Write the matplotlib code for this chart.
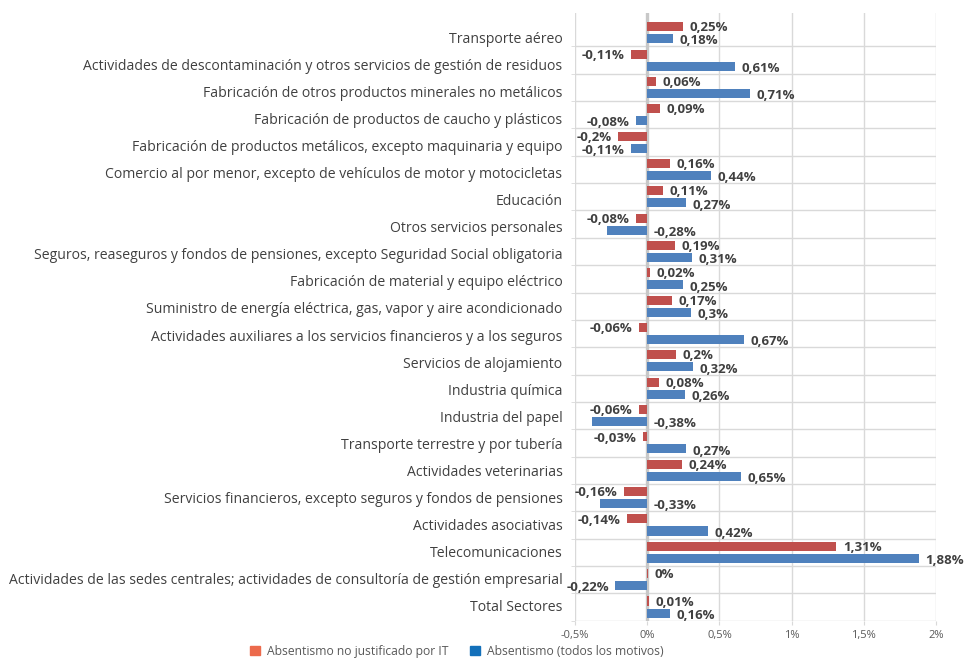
import matplotlib
matplotlib.use("Agg")
import matplotlib.pyplot as plt
from matplotlib.patches import Patch
import numpy as np

plt.rcParams["font.family"] = ["Open Sans", "DejaVu Sans"]

CATEGORIES = [
    "Transporte aéreo",
    "Actividades de descontaminación y otros servicios de gestión de residuos",
    "Fabricación de otros productos minerales no metálicos",
    "Fabricación de productos de caucho y plásticos",
    "Fabricación de productos metálicos, excepto maquinaria y equipo",
    "Comercio al por menor, excepto de vehículos de motor y motocicletas",
    "Educación",
    "Otros servicios personales",
    "Seguros, reaseguros y fondos de pensiones, excepto Seguridad Social obligatoria",
    "Fabricación de material y equipo eléctrico",
    "Suministro de energía eléctrica, gas, vapor y aire acondicionado",
    "Actividades auxiliares a los servicios financieros y a los seguros",
    "Servicios de alojamiento",
    "Industria química",
    "Industria del papel",
    "Transporte terrestre y por tubería",
    "Actividades veterinarias",
    "Servicios financieros, excepto seguros y fondos de pensiones",
    "Actividades asociativas",
    "Telecomunicaciones",
    "Actividades de las sedes centrales; actividades de consultoría de gestión empresarial",
    "Total Sectores",
]
NO_JUSTIFICADO = [0.25, -0.11, 0.06, 0.09, -0.2, 0.16, 0.11, -0.08, 0.19, 0.02, 0.17,
                  -0.06, 0.2, 0.08, -0.06, -0.03, 0.24, -0.16, -0.14, 1.31, 0.003, 0.01]
TODOS = [0.18, 0.61, 0.71, -0.08, -0.11, 0.44, 0.27, -0.28, 0.31, 0.25, 0.3,
         0.67, 0.32, 0.26, -0.38, 0.27, 0.65, -0.33, 0.42, 1.88, -0.22, 0.16]
X_TICKS = [-0.5, 0, 0.5, 1, 1.5, 2]

RED, BLUE = "#C0504D", "#4F81BD"
LEG_RED, LEG_BLUE = "#EC6A4C", "#1370BA"
TXT = "#404040"
GRID = "#D9D9D9"


def fmt(v):
    s = f"{round(v, 2):g}".replace(".", ",")
    return s + "%"


fig = plt.figure(figsize=(9.68, 6.58), dpi=100)
ax = fig.add_axes([0.594, 0.0567, 0.373, 0.9235])

n = len(CATEGORIES)
y = np.arange(n)
off, h = 0.22, 0.33
ax.barh(y - off, NO_JUSTIFICADO, height=h, color=RED, zorder=3)
ax.barh(y + off, TODOS, height=h, color=BLUE, zorder=3)

pad = 0.045
lbl = dict(va="center", fontsize=9.5, fontweight="bold", color=TXT, zorder=4)
for yi, v in zip(y, NO_JUSTIFICADO):
    if v >= 0:
        ax.text(v + pad, yi - off + 0.04, fmt(v), ha="left", **lbl)
    else:
        ax.text(v - pad, yi - off + 0.04, fmt(v), ha="right", **lbl)
for yi, v in zip(y, TODOS):
    if v >= 0:
        ax.text(v + pad, yi + off + 0.08, fmt(v), ha="left", **lbl)
    elif v > -0.25:
        ax.text(v - pad, yi + off + 0.08, fmt(v), ha="right", **lbl)
    else:
        # long negative bars: Excel pushed the label to the right of zero
        ax.text(pad, yi + off + 0.08, fmt(v), ha="left", **lbl)

ax.set_xlim(-0.5, 2)
ax.set_ylim(n - 0.5, -0.72)
ax.set_xticks(X_TICKS)
ax.set_xticklabels([fmt(t) for t in X_TICKS], fontsize=8, color="#595959")
ax.tick_params(axis="x", length=3, color=GRID, pad=4)
# Excel spaced the category labels a little tighter than the bars
ax.set_yticks(y + 0.16 - 0.2 * y / (n - 1))
ax.set_yticklabels(CATEGORIES, fontsize=10.1, color=TXT)
ax.set_yticks(np.arange(1, n + 1) - 0.5, minor=True)
ax.tick_params(axis="y", which="major", length=0, pad=9)
ax.tick_params(axis="y", which="minor", length=3, color=GRID)
ax.grid(axis="x", color=GRID, lw=1, zorder=0)
ax.grid(axis="y", which="minor", color=GRID, lw=1, zorder=0)
ax.axvline(0, color="#C8C8C8", lw=2.4, zorder=2)
for s in ax.spines.values():
    s.set_visible(False)

handles = [Patch(color=LEG_RED, label="Absentismo no justificado por IT"),
           Patch(color=LEG_BLUE, label="Absentismo (todos los motivos)")]
fig.legend(handles=handles, loc="lower center", bbox_to_anchor=(0.472, -0.016),
           ncol=2, frameon=False, fontsize=8.7, handlelength=0.8, handleheight=0.8,
           columnspacing=1.75, handletextpad=0.6, labelcolor="#595959")

fig.savefig("out.png", dpi=100)
